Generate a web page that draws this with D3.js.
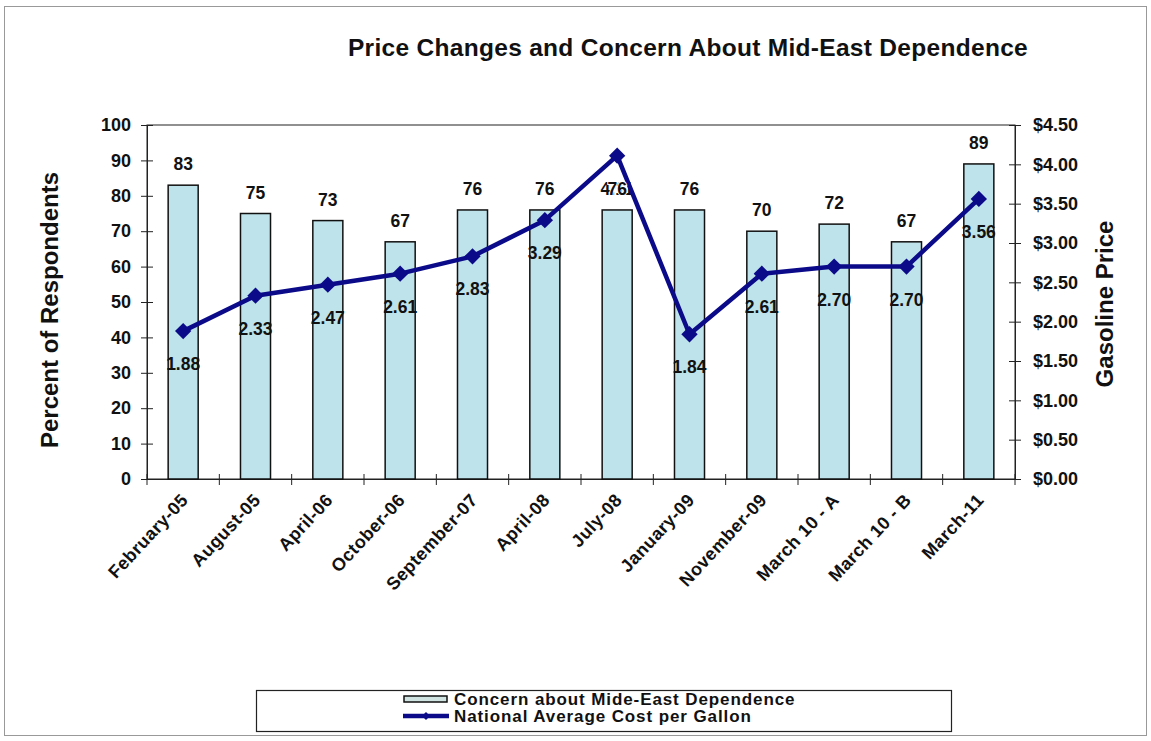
<!DOCTYPE html>
<html><head><meta charset="utf-8">
<script src="https://cdn.jsdelivr.net/npm/d3@7"></script>
<style>body{margin:0;background:#fff}svg{display:block;font-family:"Liberation Sans",Arial,sans-serif}</style>
</head><body><svg id="c" width="1151" height="741"></svg>
<script>
const categories = ["February-05","August-05","April-06","October-06","September-07","April-08","July-08","January-09","November-09","March 10 - A","March 10 - B","March-11"];
const concern = [83,75,73,67,76,76,76,76,70,72,67,89];
const price = [1.88,2.33,2.47,2.61,2.83,3.29,4.11,1.84,2.61,2.70,2.70,3.56];
const leftTicks = [0,10,20,30,40,50,60,70,80,90,100];
const rightTicks = [0,0.5,1,1.5,2,2.5,3,3.5,4,4.5];
const seriesNames = ["Concern about Mide-East Dependence","National Average Cost per Gallon"];
const title = "Price Changes and Concern About Mid-East Dependence";

const svg = d3.select("#c");
const L = 147, R = 1015, T = 125, B = 479;
const navy = "#0b0b8a", barFill = "#bfe3ea";

svg.append("rect").attr("x",4.5).attr("y",6.5).attr("width",1142).attr("height",729)
  .attr("fill","#fff").attr("stroke","#999").attr("stroke-width",1);

const x = d3.scaleBand().domain(categories).range([L,R]).paddingInner(0.585).paddingOuter(0.2925);
const xb = d3.scaleBand().domain(categories).range([L,R]);
const yL = d3.scaleLinear().domain([0,100]).range([B,T]);
const yR = d3.scaleLinear().domain([0,4.5]).range([B,T]);

// plot frame
svg.append("rect").attr("x",L).attr("y",T).attr("width",R-L).attr("height",B-T)
  .attr("fill","none").attr("stroke","#222").attr("stroke-width",1);

// title
svg.append("text").attr("x",688).attr("y",56).attr("text-anchor","middle")
  .attr("font-size",24.5).attr("letter-spacing",0.3).attr("font-weight","bold").attr("fill","#111").text(title);

// axes
const ax = d3.axisLeft(yL).tickValues(leftTicks).tickSize(6).tickPadding(10).tickFormat(d3.format("d"));
const gL = svg.append("g").attr("transform",`translate(${L},0)`).call(ax);
gL.selectAll(".tick line").attr("x2",6).attr("x1",-6);
const axR = d3.axisRight(yR).tickValues(rightTicks).tickSize(6).tickPadding(12).tickFormat(d=>"$"+d3.format(".2f")(d));
const gR = svg.append("g").attr("transform",`translate(${R},0)`).call(axR);
gR.selectAll(".tick line").attr("x1",-6).attr("x2",6);
const axB = d3.axisBottom(xb).tickSize(0).tickPadding(0);
const gB = svg.append("g").attr("transform",`translate(0,${B})`).call(axB);
// boundary ticks
svg.append("g").selectAll("line").data(d3.range(categories.length+1)).join("line")
  .attr("x1",i=>L+i*xb.step()).attr("x2",i=>L+i*xb.step())
  .attr("y1",B-5).attr("y2",B+6).attr("stroke","#222");
[gL,gR,gB].forEach(g=>{
  g.selectAll(".domain").attr("stroke","#222");
  g.selectAll(".tick line").attr("stroke","#222");
  g.selectAll("text").attr("font-size",18).attr("font-weight","bold").attr("fill","#111")
   .attr("font-family","'Liberation Sans',Arial,sans-serif");
});
gB.selectAll(".tick text").attr("text-anchor","end").attr("y",0).attr("dy",0)
  .attr("transform","translate(6,22) rotate(-47)").attr("font-size",18).attr("letter-spacing",0.4);

// axis titles
svg.append("text").attr("transform","translate(58,310) rotate(-90)").attr("text-anchor","middle")
  .attr("font-size",24).attr("font-weight","bold").attr("fill","#111").text("Percent of Respondents");
svg.append("text").attr("transform","translate(1113,304) rotate(-90)").attr("text-anchor","middle")
  .attr("font-size",24).attr("font-weight","bold").attr("fill","#111").text("Gasoline Price");

// bars
svg.append("g").selectAll("rect").data(categories).join("rect")
  .attr("x",d=>x(d)).attr("width",x.bandwidth())
  .attr("y",(d,i)=>yL(concern[i])).attr("height",(d,i)=>B-yL(concern[i]))
  .attr("fill",barFill).attr("stroke","#111").attr("stroke-width",1.5);

const cx = d=>xb(d)+xb.bandwidth()/2;

// price labels
svg.append("g").selectAll("text").data(categories).join("text")
  .attr("x",d=>cx(d)).attr("y",(d,i)=>yR(price[i])+39).attr("text-anchor","middle")
  .attr("font-size",17.5).attr("font-weight","bold").attr("fill","#111")
  .text((d,i)=>d3.format(".2f")(price[i]));

// line
const line = d3.line().x((d,i)=>cx(categories[i])).y(d=>yR(d));
svg.append("path").datum(price).attr("d",line).attr("fill","none")
  .attr("stroke",navy).attr("stroke-width",4.5).attr("stroke-linejoin","round");
svg.append("g").selectAll("path").data(price).join("path")
  .attr("transform",(d,i)=>`translate(${cx(categories[i])},${yR(d)})`)
  .attr("d",d3.symbol(d3.symbolDiamond2,170)).attr("fill",navy);

// bar labels
svg.append("g").selectAll("text").data(categories).join("text")
  .attr("x",d=>cx(d)).attr("y",(d,i)=>yL(concern[i])-15).attr("text-anchor","middle")
  .attr("font-size",17.5).attr("font-weight","bold").attr("fill","#111")
  .attr("stroke","#fff").attr("stroke-width",2).attr("paint-order","stroke")
  .text((d,i)=>concern[i]);

// legend
const lg = svg.append("g");
lg.append("rect").attr("x",256.5).attr("y",690.5).attr("width",695).attr("height",41)
  .attr("fill","#fff").attr("stroke","#222").attr("stroke-width",1.2);
lg.append("rect").attr("x",404).attr("y",696).attr("width",43).attr("height",6)
  .attr("fill","#cfe3e0").attr("stroke","#111").attr("stroke-width",1.5);
lg.append("line").attr("x1",403).attr("x2",449).attr("y1",716).attr("y2",716)
  .attr("stroke",navy).attr("stroke-width",4.5);
lg.append("path").attr("transform","translate(426,716)").attr("d",d3.symbol(d3.symbolDiamond2,40)).attr("fill",navy);
lg.selectAll("text.l").data(seriesNames).join("text").attr("class","l")
  .attr("x",454).attr("y",(d,i)=>705+i*17).attr("font-size",17).attr("letter-spacing",0.9).attr("font-weight","bold")
  .attr("fill","#111").text(d=>d);
</script></body></html>
